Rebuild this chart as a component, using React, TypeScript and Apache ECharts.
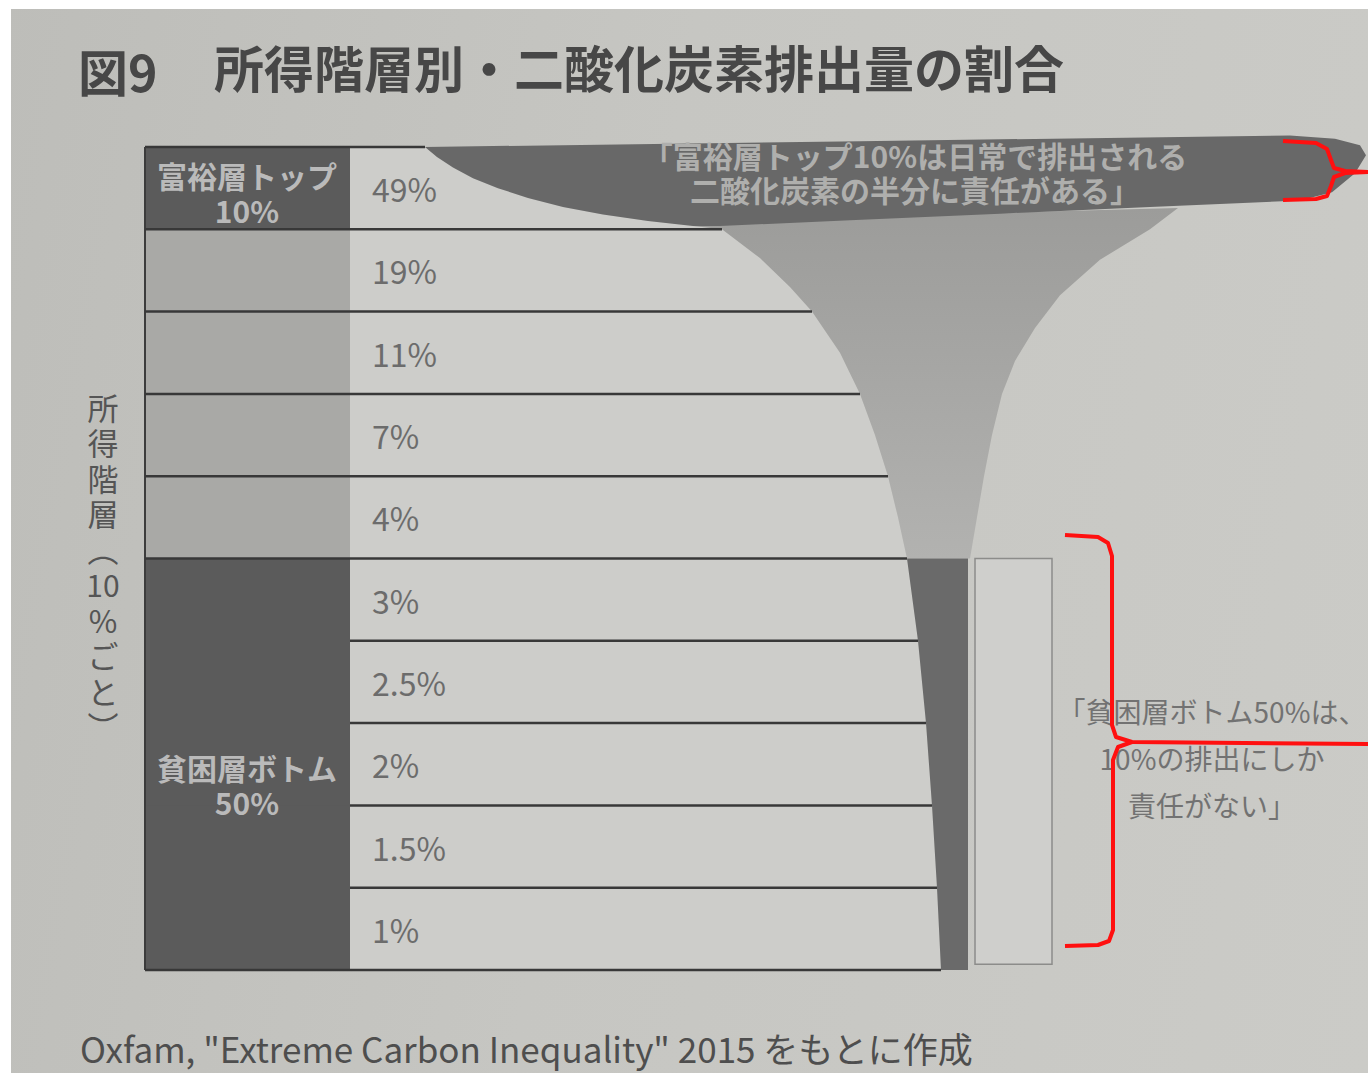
import { useEffect, useRef } from 'react';
import * as echarts from 'echarts';

// ---------- data ----------
const titleFig = '図9';
const titleText = '所得階層別・二酸化炭素排出量の割合';
const axisTitleChars = ['所', '得', '階', '層', '︵', '10', '%', 'ご', 'と', '︶'];
const sourceNote = 'Oxfam, "Extreme Carbon Inequality" 2015 をもとに作成';
const richNote = ['「富裕層トップ10%は日常で排出される', '二酸化炭素の半分に責任がある」'];
const poorNote = ['「貧困層ボトム50%は、', '10%の排出にしか', '責任がない」'];

// income deciles (top -> bottom) and their share of CO2 emissions
const rowLabels = ['49%', '19%', '11%', '7%', '4%', '3%', '2.5%', '2%', '1.5%', '1%'];
const rowGroup = [0, 1, 1, 1, 1, 2, 2, 2, 2, 2]; // 0 = rich top 10%, 1 = middle, 2 = poor bottom 50%
const groupLabels = ['富裕層トップ\n10%', '', '貧困層ボトム\n50%'];
const groupLabelRow = [0.55, -1, 7.75];

// funnel outline: [x, row position]
const funnelLeftEdge = [
  [425, 0], [437, 0.12], [453, 0.25], [473, 0.38], [498, 0.5], [528, 0.62], [563, 0.73],
  [603, 0.82], [648, 0.9], [693, 0.96], [722, 1.0],
  [760, 1.35], [790, 1.7], [812, 2.0], [840, 2.5], [860, 3.0], [875, 3.5], [888, 4.0], [898, 4.5], [907, 5.0],
  [918, 6], [926, 7], [932, 8], [937, 9], [941, 10],
];
const richBandOuter = [
  [720, 0.96], [850, 0.89], [1000, 0.81], [1150, 0.73], [1300, 0.65], [1332, 0.55], [1355, 0.32],
  [1366, 0.1], [1360, -0.02], [1335, -0.1], [1290, -0.14], [860, -0.07], [425, 0],
];
const middleFunnelRight = [
  [1178, 0.74], [1150, 1.0], [1100, 1.37], [1060, 1.8], [1035, 2.2], [1015, 2.6], [1002, 3.0],
  [992, 3.5], [984, 4.0], [977, 4.5], [970, 5.0],
];
const poorStripRight = 968;
const poorBox = { x0: 975, x1: 1052, y0: 5, y1: 9.93 };

// ---------- helpers ----------
const FONT = "'Noto Sans CJK JP', 'Noto Sans', sans-serif";
const edgeAt = (y: number) => {
  const p = funnelLeftEdge.find((q) => Math.abs(q[1] - y) < 1e-6);
  return p ? p[0] : 350;
};
const groupFill = ['#5b5b5b', '#a9a9a6', '#5b5b5b'];

const single = [[0, 0]];

const option: any = {
  animation: false,
  backgroundColor: 'transparent',
  grid: { left: 145, right: 0, top: 147, height: 823 },
  xAxis: { type: 'value', min: 145, max: 1368, show: false },
  yAxis: { type: 'value', min: 0, max: 10, inverse: true, show: false },
  series: [
    // white label column, right edge follows the funnel
    {
      type: 'custom',
      z: 1,
      data: single,
      renderItem: (_p: any, api: any) => ({
        type: 'polygon',
        shape: { points: [[350, 0], ...funnelLeftEdge, [350, 10]].map((p) => api.coord(p)) },
        style: { fill: '#cdcdca' },
      }),
    },
    // group cells on the left
    {
      type: 'custom',
      z: 2,
      data: rowLabels.map((_, i) => [i, rowGroup[i]]),
      renderItem: (_p: any, api: any) => {
        const i = api.value(0);
        const g = api.value(1);
        const a = api.coord([145, i]);
        const b = api.coord([350, i + 1]);
        return {
          type: 'rect',
          shape: { x: a[0], y: a[1], width: b[0] - a[0], height: b[1] - a[1] + 0.5 },
          style: { fill: groupFill[g] },
        };
      },
    },
    // funnel shapes
    {
      type: 'custom',
      z: 3,
      data: single,
      renderItem: (_p: any, api: any) => {
        const midLeft = funnelLeftEdge.filter((p) => p[1] >= 0.96 && p[1] <= 5).reverse();
        const poorLeft = funnelLeftEdge.filter((p) => p[1] >= 5).reverse();
        const richLeft = funnelLeftEdge.filter((p) => p[1] <= 0.96);
        const mid = [[700, 0.9], ...middleFunnelRight, ...midLeft];
        const poor = [[907, 5], [poorStripRight, 5], [poorStripRight, 10], ...poorLeft];
        const rich = [...richLeft, ...richBandOuter];
        return {
          type: 'group',
          children: [
            {
              type: 'polygon',
              shape: { points: mid.map((p) => api.coord(p)) },
              style: {
                fill: new echarts.graphic.LinearGradient(0, 0, 0, 1, [
                  { offset: 0, color: '#9c9c9a' },
                  { offset: 1, color: '#b2b2b0' },
                ]),
              },
            },
            { type: 'polygon', shape: { points: poor.map((p) => api.coord(p)) }, style: { fill: '#6a6a6a' } },
            { type: 'polygon', shape: { points: rich.map((p) => api.coord(p)) }, style: { fill: '#686868' } },
          ],
        };
      },
    },
    // outlined box next to the bottom 50%
    {
      type: 'custom',
      z: 3,
      data: single,
      renderItem: (_p: any, api: any) => {
        const a = api.coord([poorBox.x0, poorBox.y0]);
        const b = api.coord([poorBox.x1, poorBox.y1]);
        return {
          type: 'rect',
          shape: { x: a[0], y: a[1], width: b[0] - a[0], height: b[1] - a[1] },
          style: { fill: '#cfcfcc', stroke: '#8c8c8a', lineWidth: 1.5 },
        };
      },
    },
    // separators and labels
    {
      type: 'custom',
      z: 4,
      data: [0, 1, 2, 3, 4, 5, 6, 7, 8, 9, 10].map((b) => [b]),
      renderItem: (_p: any, api: any) => {
        const b = api.value(0);
        const x0 = b >= 6 && b <= 9 ? 350 : 145;
        const x1 = edgeAt(b);
        const a = api.coord([x0, b]);
        const c = api.coord([x1, b]);
        const children: any[] = [
          { type: 'line', shape: { x1: a[0], y1: a[1], x2: c[0], y2: c[1] }, style: { stroke: '#383838', lineWidth: 2.5 } },
        ];
        if (b < 10) {
          const t = api.coord([372, b + 0.5]);
          children.push({
            type: 'text',
            x: t[0],
            y: t[1],
            style: {
              text: rowLabels[b],
              fill: '#6c6c6c',
              font: `32px ${FONT}`,
              textAlign: 'left',
              textVerticalAlign: 'middle',
            },
          });
        }
        if (b === 0) {
          const top = api.coord([145, 0]);
          const bot = api.coord([145, 10]);
          children.push({
            type: 'line',
            shape: { x1: top[0], y1: top[1], x2: bot[0], y2: bot[1] },
            style: { stroke: '#3c3c3c', lineWidth: 2 },
          });
          [0, 2].forEach((g) => {
            const p = api.coord([247, groupLabelRow[g]]);
            children.push({
              type: 'text',
              x: p[0],
              y: p[1],
              style: {
                text: groupLabels[g],
                fill: '#bababa',
                font: `bold 30px ${FONT}`,
                lineHeight: 35,
                textAlign: 'center',
                textVerticalAlign: 'middle',
              },
            });
          });
          const n0 = api.coord([915, 0.3]);
          children.push({
            type: 'text',
            x: n0[0],
            y: n0[1],
            style: {
              text: richNote.join('\n'),
              fill: '#afafad',
              font: `bold 30px ${FONT}`,
              lineHeight: 34,
              textAlign: 'center',
              textVerticalAlign: 'middle',
            },
          });
        }
        return { type: 'group', children };
      },
    },
  ],
  graphic: [
    // page white edges
    { type: 'rect', shape: { x: 0, y: 0, width: 11, height: 1077 }, style: { fill: '#ffffff' }, z: 100 },
    { type: 'rect', shape: { x: 0, y: 0, width: 1368, height: 9 }, style: { fill: '#ffffff' }, z: 100 },
    { type: 'rect', shape: { x: 0, y: 1073, width: 1368, height: 4 }, style: { fill: '#ffffff' }, z: 100 },
    {
      type: 'text',
      x: 78,
      y: 70,
      style: { text: titleFig, fill: '#474747', font: `bold 50px ${FONT}`, textVerticalAlign: 'middle' },
    },
    {
      type: 'text',
      x: 214,
      y: 66,
      style: { text: titleText, fill: '#474747', font: `bold 50px ${FONT}`, textVerticalAlign: 'middle' },
    },
    // vertical axis title, one glyph per line
    ...axisTitleChars.map((ch, i) => ({
      type: 'text',
      x: 103,
      y: 406 + i * 35.5,
      style: {
        text: ch,
        fill: '#555555',
        font: `${ch === '10' ? 30 : 31}px ${FONT}`,
        textAlign: 'center',
        textVerticalAlign: 'middle',
      },
    })),
    {
      type: 'text',
      x: 1212,
      y: 758,
      style: {
        text: poorNote.join('\n'),
        fill: '#727272',
        font: `28px ${FONT}`,
        lineHeight: 47,
        textAlign: 'center',
        textVerticalAlign: 'middle',
      },
    },
    {
      type: 'text',
      x: 80,
      y: 1047,
      style: { text: sourceNote, fill: '#4e4e4e', font: `35px ${FONT}`, textVerticalAlign: 'middle' },
    },
    // red brackets (hand-drawn annotations)
    {
      type: 'polyline',
      z: 101,
      shape: {
        points: [
          [1283, 141], [1316, 143], [1327, 149], [1331, 160], [1334, 168], [1345, 171], [1368, 172],
          [1345, 173], [1334, 177], [1331, 186], [1327, 196], [1316, 199], [1283, 200],
        ],
      },
      style: { stroke: '#ff1010', lineWidth: 4, fill: 'none', lineJoin: 'round' },
    },
    {
      type: 'polyline',
      z: 101,
      shape: {
        points: [
          [1065, 535], [1098, 537], [1108, 543], [1112, 556], [1112, 725], [1116, 737], [1132, 742],
          [1368, 744],
        ],
      },
      style: { stroke: '#ff1010', lineWidth: 4, fill: 'none', lineJoin: 'round' },
    },
    {
      type: 'polyline',
      z: 101,
      shape: {
        points: [
          [1132, 742], [1118, 747], [1113, 760], [1113, 930], [1109, 941], [1098, 945], [1065, 946],
        ],
      },
      style: { stroke: '#ff1010', lineWidth: 4, fill: 'none', lineJoin: 'round' },
    },
  ],
};

export default function App() {
  const ref = useRef<HTMLDivElement>(null);
  useEffect(() => {
    const chart = echarts.init(ref.current!, null, { renderer: 'svg' });
    chart.setOption(option);
    return () => chart.dispose();
  }, []);
  return (
    <div
      ref={ref}
      style={{
        position: 'fixed',
        left: 0,
        top: 0,
        width: 1368,
        height: 1077,
        background: 'linear-gradient(100deg, #bdbdb9 0%, #c6c6c2 45%, #cbcbc7 100%)',
      }}
    />
  );
}
